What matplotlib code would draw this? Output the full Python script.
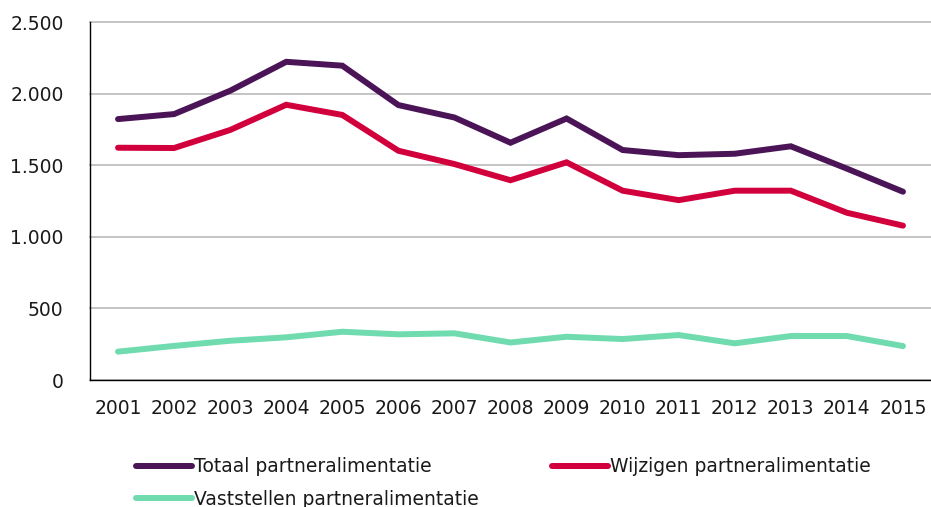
import matplotlib
matplotlib.use("Agg")
import matplotlib.pyplot as plt
from matplotlib.ticker import FuncFormatter

years = ["2001", "2002", "2003", "2004", "2005", "2006", "2007", "2008",
         "2009", "2010", "2011", "2012", "2013", "2014", "2015"]
totaal = [1822, 1857, 2020, 2222, 2195, 1920, 1833, 1657,
          1826, 1606, 1570, 1580, 1632, 1476, 1315]
wijzigen = [1622, 1620, 1746, 1922, 1851, 1601, 1508, 1395,
            1520, 1322, 1256, 1322, 1322, 1168, 1078]
vaststellen = [198, 238, 274, 298, 337, 319, 326, 262,
               302, 286, 314, 256, 307, 307, 237]
labels = ["Totaal partneralimentatie", "Wijzigen partneralimentatie",
          "Vaststellen partneralimentatie"]
colors = ["#4A1457", "#D1003D", "#6FDBAE"]

plt.rcParams['font.family'] = ['DejaVu Sans']
fig = plt.figure(figsize=(9.31, 5.07), dpi=100)
ax = fig.add_axes([90/931, 1-380/507, 1-90/931, (380-22)/507])

x = list(range(len(years)))
handles = []
for vals, col, lab in zip([totaal, wijzigen, vaststellen], colors, labels):
    h, = ax.plot(x, vals, color=col, lw=4.3, solid_capstyle='round',
                 solid_joinstyle='miter', label=lab, zorder=3, clip_on=False)
    handles.append(h)

ax.set_xlim(-0.5, len(years) - 0.5)
ax.set_ylim(0, 2500)
ax.set_yticks([0, 500, 1000, 1500, 2000, 2500])
ax.yaxis.set_major_formatter(FuncFormatter(lambda v, p: f"{int(v):,}".replace(",", ".")))
ax.set_xticks(x)
ax.set_xticklabels(years)
ax.grid(axis='y', color='#BFBFBF', lw=1.3, zorder=0, clip_on=False)
ax.set_axisbelow(True)
for s in ['top', 'right']:
    ax.spines[s].set_visible(False)
ax.spines['left'].set_color('black')
ax.spines['bottom'].set_color('black')
ax.spines['left'].set_linewidth(1.0)
ax.spines['bottom'].set_linewidth(1.0)
ax.tick_params(axis='both', length=0, labelsize=13.5, colors='#1a1a1a')
ax.tick_params(axis='x', pad=14)
ax.tick_params(axis='y', pad=19)

order = [0, 2, 1]
leg = fig.legend(handles=[handles[i] for i in order],
                 labels=[labels[i] for i in order], ncol=2, loc='upper left',
                 bbox_to_anchor=(128/931, 1-450/507), frameon=False,
                 fontsize=13.5, handlelength=3.0, handletextpad=0.1,
                 columnspacing=3.9, labelspacing=0.7, borderaxespad=0)
for t in leg.get_texts():
    t.set_color('#1a1a1a')

fig.savefig("out.png", dpi=100)
